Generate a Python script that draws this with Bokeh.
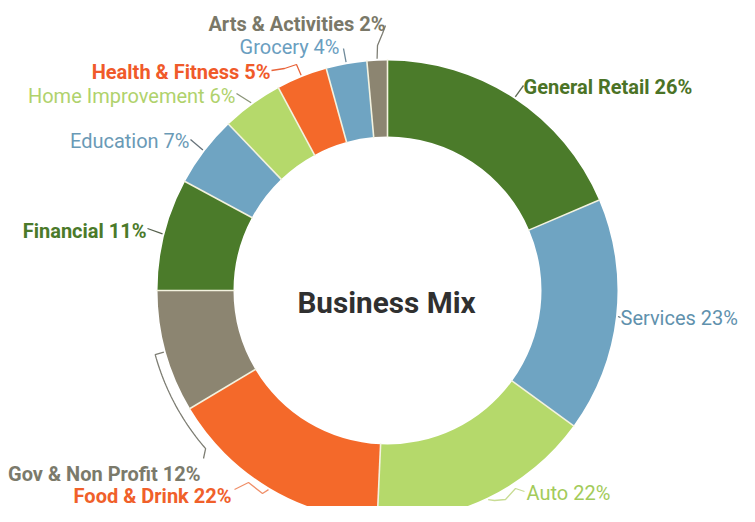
import numpy as np
from bokeh.plotting import figure
from bokeh.models import Range1d
from bokeh.core.properties import value
from bokeh.embed import file_html
from bokeh.resources import INLINE

# ---------------- data ----------------
categories = ["General Retail", "Services", "Auto", "Food & Drink", "Gov & Non Profit",
              "Financial", "Education", "Home Improvement", "Health & Fitness",
              "Grocery", "Arts & Activities"]
values = [26, 23, 22, 22, 12, 11, 7, 6, 5, 4, 2]
pct_labels = ["26%", "23%", "22%", "22%", "12%", "11%", "7%", "6%", "5%", "4%", "2%"]
title_text = "Business Mix"

# ---------------- styles ----------------
DG, BL, LG, OR, TP = "#4b7b2a", "#6fa4c2", "#b5d96b", "#f4692a", "#8c8571"
slice_colors = [DG, BL, LG, OR, TP, DG, BL, LG, OR, BL, TP]
label_colors = ["#4b7326", "#5f91ad", "#a3cb5a", "#f0602a", "#7b7a6b", "#4b7a2a",
                "#6a9ab6", "#b0d26c", "#f05a2a", "#6a9ebf", "#7a7868"]
label_bold = [True, False, False, True, True, True, False, False, True, False, True]
leader_colors = ["#5f6b55", "#5e6f78", "#c8dc94", "#f0906a", "#7e7e74", "#55604c",
                 "#66727a", "#8a9478", "#e8643a", "#6f8a9a", "#7e7e74"]

# layout (pixels of the figure)
W, H = 739, 506
CX, CY = 387, 290
R_OUT, R_IN = 230, 154

# label anchor (x, baseline y, align) and leader waypoints (from slice to text)
label_layout = {
    "General Retail":    (523, 86, "left",  [(523, 85)]),
    "Services":          (620, 317, "left", [(620, 317)]),
    "Auto":              (526, 492, "left", [(494, 500), (505, 499), (515, 488), (524, 491)]),
    "Food & Drink":      (231, 495, "right", [(262, 493), (248, 482), (234, 489)]),
    "Gov & Non Profit":  (200, 473, "right", None),
    "Financial":         (146, 230, "right", [(147, 228)]),
    "Education":         (189, 140, "right", [(190, 139)]),
    "Home Improvement":  (235, 95, "right", [(236, 93)]),
    "Health & Fitness":  (270, 71, "right", [(296, 64), (284, 68), (271, 70)]),
    "Grocery":           (339, 46, "right", [(343, 48)]),
    "Arts & Activities": (385, 23, "right", [(377, 45), (382, 33), (385, 25)]),
}

p = figure(width=W, height=H, x_range=Range1d(0, W), y_range=Range1d(-H, 0),
           output_backend="svg", toolbar_location=None, min_border=0,
           x_axis_location=None, y_axis_location=None, tools="")
p.grid.visible = False
p.outline_line_color = None
p.background_fill_color = "white"
p.border_fill_color = "white"

vals = np.array(values, dtype=float)
cum = np.concatenate([[0], np.cumsum(vals)])
theta0 = 360.0 * cum[:-1] / vals.sum()   # clockwise from top, degrees
theta1 = 360.0 * cum[1:] / vals.sum()
mid = (theta0 + theta1) / 2

def pt(theta_deg, r):
    t = np.radians(theta_deg)
    return CX + r * np.sin(t), -(CY - r * np.cos(t))

p.annular_wedge(x=CX, y=-CY, inner_radius=R_IN, outer_radius=R_OUT,
                start_angle=np.radians(90 - theta1), end_angle=np.radians(90 - theta0),
                fill_color=slice_colors, line_color=None)

# thin separators between slices
for t in theta0:
    x0, y0 = pt(t, R_IN - 1)
    x1, y1 = pt(t, R_OUT + 1)
    p.segment(x0=[x0], y0=[y0], x1=[x1], y1=[y1], line_color="#f3f2df", line_width=1.6)

# leaders and labels
for i, cat in enumerate(categories):
    lx, ly, align, way = label_layout[cat]
    ax, ay = pt(mid[i], R_OUT + 2)
    if way is None:
        # bracket-style leader for Gov & Non Profit
        ts = np.linspace(mid[i], 229, 30)
        bx, by = pt(ts, R_OUT + 11)
        xs = [ax] + list(bx) + [203]
        ys = [ay] + list(by) + [-458]
    else:
        xs = [ax] + [w[0] for w in way]
        ys = [ay] + [-w[1] for w in way]
    p.line(xs, ys, line_color=leader_colors[i], line_width=1.3)
    p.text(x=[lx], y=[-ly], text=[f"{cat} {pct_labels[i]}"], text_align=align,
           text_baseline="alphabetic", text_font=value("Roboto"), text_font_size="20px",
           text_color=label_colors[i],
           text_font_style="bold" if label_bold[i] else "normal")

p.text(x=[386], y=[-302], text=[title_text], text_align="center", text_baseline="alphabetic",
       text_font=value("Roboto"), text_font_size="29.7px", text_font_style="bold",
       text_color="#303030")

open("out.html", "w").write(file_html(p, INLINE))
